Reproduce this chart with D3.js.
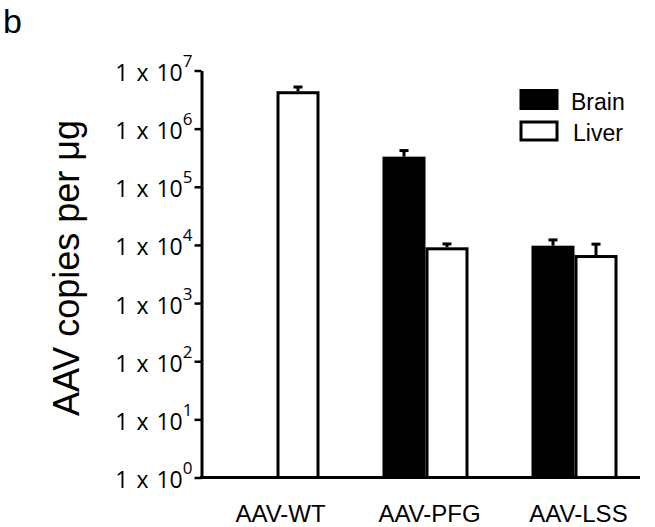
<!DOCTYPE html>
<html><head><meta charset="utf-8">
<script src="https://cdn.jsdelivr.net/npm/d3@7"></script>
<style>body{margin:0;background:#fff}svg{display:block}</style>
</head><body>
<svg id="c" width="655" height="527"></svg>
<script>
const categories = ["AAV-WT", "AAV-PFG", "AAV-LSS"];
const series = ["Brain", "Liver"];
const brainValues = [null, 3.3e5, 9.7e3];
const brainErrors = [null, 4.2e5, 1.22e4];
const liverValues = [4.4e6, 9.1e3, 6.7e3];
const liverErrors = [5.2e6, 1.04e4, 1.03e4];
const tickExponents = [0, 1, 2, 3, 4, 5, 6, 7];
const yLabel = "AAV copies per \u03bcg";

const svg = d3.select("#c");
const plotLeft = 201.5, plotBottom = 477.5, plotTop = 70.5;
const y = d3.scaleLog().domain([1, 1e7]).range([plotBottom, plotTop]);
const x0 = d3.scaleBand().domain(categories).range([202, 649]);
const barW = 43;
const xs = d3.scaleBand().domain(series).range([-barW, barW]);

const data = [];
categories.forEach((c, i) => {
  data.push({cat: c, s: "Brain", v: brainValues[i], e: brainErrors[i]});
  data.push({cat: c, s: "Liver", v: liverValues[i], e: liverErrors[i]});
});
const cx = c => x0(c) + x0.bandwidth() / 2;

// bars
const g = svg.append("g");
data.filter(d => d.v != null).forEach(d => {
  const bx = cx(d.cat) + xs(d.s);
  const ex = bx + barW / 2;
  g.append("line").attr("x1", ex).attr("x2", ex).attr("y1", y(d.v)).attr("y2", y(d.e))
    .attr("stroke", "#000").attr("stroke-width", 3);
  g.append("line").attr("x1", ex - 4.5).attr("x2", ex + 4.5).attr("y1", y(d.e)).attr("y2", y(d.e))
    .attr("stroke", "#000").attr("stroke-width", 3);
  g.append("rect").attr("x", bx + 1.5).attr("width", barW - 3)
    .attr("y", y(d.v) + 1.5).attr("height", plotBottom - y(d.v) - 1.5)
    .attr("fill", d.s === "Brain" ? "#000" : "#fff")
    .attr("stroke", "#000").attr("stroke-width", 3);
});

// y axis
const yAxis = d3.axisLeft(y).tickValues(tickExponents.map(e => Math.pow(10, e)))
  .tickFormat("").tickSize(7).tickSizeOuter(0);
const ya = svg.append("g").attr("transform", `translate(${plotLeft},0)`).call(yAxis);
ya.select(".domain").attr("stroke-width", 3);
ya.selectAll(".tick line").attr("stroke-width", 2.5);
ya.selectAll(".tick").each(function(v, i) {
  const t = d3.select(this).append("text")
    .attr("x", -9).attr("y", 10).attr("text-anchor", "end")
    .attr("fill", "#000").attr("font-family", "Open Sans, sans-serif").attr("font-size", 23);
  t.append("tspan").attr("word-spacing", 2).text("1 x 10");
  t.append("tspan").attr("dy", -14).attr("font-size", 17).text(tickExponents[i]);
});

// x axis
svg.append("line").attr("x1", 200).attr("x2", 640).attr("y1", plotBottom).attr("y2", plotBottom)
  .attr("stroke", "#000").attr("stroke-width", 3);
const xAxis = d3.axisBottom(x0).tickSize(0);
const xa = svg.append("g").attr("transform", `translate(4,${plotBottom})`).call(xAxis);
xa.select(".domain").remove();
xa.selectAll(".tick text").attr("font-family", "Liberation Sans, Arial, sans-serif")
  .attr("font-size", 24).attr("fill", "#000").attr("dy", 0).attr("y", 44);

// y label
svg.append("text").attr("transform", "translate(79,268) rotate(-90)")
  .attr("text-anchor", "middle").attr("font-family", "Liberation Sans, Arial, sans-serif")
  .attr("font-size", 36).attr("fill", "#000").text(yLabel);

// legend
const lg = svg.append("g");
series.forEach((s, i) => {
  lg.append("rect").attr("x", 521).attr("y", 90.5 + i * 31.5).attr("width", 36).attr("height", 18)
    .attr("fill", s === "Brain" ? "#000" : "#fff").attr("stroke", "#000").attr("stroke-width", 3);
  lg.append("text").attr("x", 571 + i * 2).attr("y", 110 + i * 31).attr("font-family", "Liberation Sans, Arial, sans-serif")
    .attr("font-size", 23).attr("fill", "#000").text(s);
});

// panel label
svg.append("text").attr("x", 3).attr("y", 33).attr("font-family", "Liberation Sans, Arial, sans-serif")
  .attr("font-size", 34).attr("fill", "#000").text("b");
</script>
</body></html>
